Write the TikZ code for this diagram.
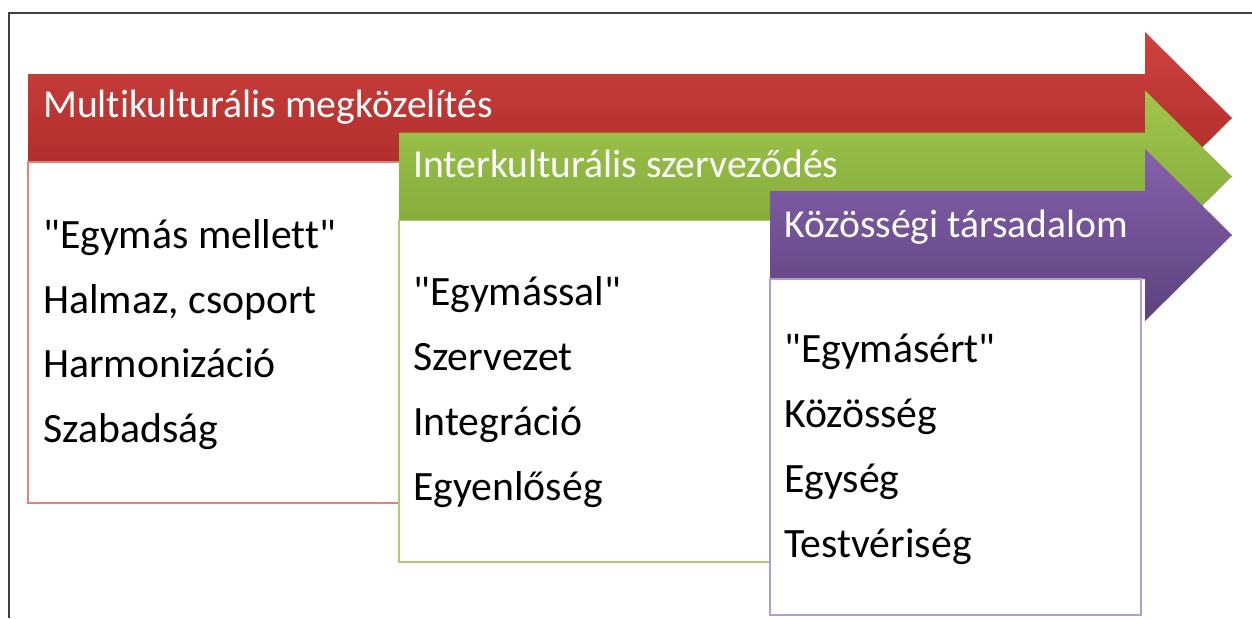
\documentclass[tikz,border=0pt]{standalone}
\usepackage{fontspec}
\newfontfamily\calfont{Carlito}[Ligatures=NoCommon]
\definecolor{redtop}{RGB}{206,66,62}
\definecolor{redbot}{RGB}{166,40,38}
\definecolor{greentop}{RGB}{160,198,76}
\definecolor{greenbot}{RGB}{126,166,56}
\definecolor{purptop}{RGB}{133,97,172}
\definecolor{purpbot}{RGB}{94,66,126}
\definecolor{boxred}{RGB}{226,128,128}
\definecolor{boxgreen}{RGB}{172,206,112}
\definecolor{boxpurp}{RGB}{176,158,206}
\definecolor{framegray}{RGB}{64,64,64}
\tikzset{
  hdr/.style={anchor=base west, text=white, inner sep=0pt, font=\calfont\fontsize{29.7}{34}\selectfont},
  itm/.style={anchor=base west, text=black, inner sep=0pt, font=\calfont\fontsize{31.3}{36}\selectfont},
  listbox/.style={fill=white, line width=1.3pt},
}
\begin{document}
\begin{tikzpicture}[x=0.75pt,y=-0.75pt]
\useasboundingbox (0,0) rectangle (1252,618);
% frame
\draw[framegray, line width=1.4pt] (1252,13) -- (9,13) -- (9,618);
% red arrow
\shade[top color=redtop, bottom color=redbot]
  (28,74) -- (1145,74) -- (1145,32) -- (1232,118) -- (1145,204) -- (1145,162) -- (28,162) -- cycle;
\node[hdr] (h1) at (43,117) {Multikulturális megközelítés};
\draw[listbox, draw=boxred] (28,162) rectangle (700,503);
\node[itm] (r1) at (43,248) {"Egymás mellett"};
\node[itm] (r2) at (43,313) {Halmaz, csoport};
\node[itm] (r3) at (43,377.5) {Harmonizáció};
\node[itm] (r4) at (43,442) {Szabadság};
% green arrow
\shade[top color=greentop, bottom color=greenbot]
  (399,132.5) -- (1145,132.5) -- (1145,90.5) -- (1232,176.5) -- (1145,262.5) -- (1145,220.5) -- (399,220.5) -- cycle;
\node[hdr] (h2) at (413,177) {Interkulturális szerveződés};
\draw[listbox, draw=boxgreen] (399,220.5) rectangle (1000,562);
\node[itm] (g1) at (413,305) {"Egymással"};
\node[itm] (g2) at (413,370) {Szervezet};
\node[itm] (g3) at (413,435) {Integráció};
\node[itm] (g4) at (413,500) {Egyenlőség};
% purple arrow
\shade[top color=purptop, bottom color=purpbot]
  (770,191) -- (1145,191) -- (1145,149) -- (1232,235) -- (1145,321) -- (1145,279) -- (770,279) -- cycle;
\node[hdr] (h3) at (784,237) {Közösségi társadalom};
\draw[listbox, draw=boxpurp] (770,279) rectangle (1141,615);
\node[itm] (p1) at (784,362) {"Egymásért"};
\node[itm] (p2) at (784,427) {Közösség};
\node[itm] (p3) at (784,492) {Egység};
\node[itm] (p4) at (784,557) {Testvériség};
\end{tikzpicture}
\end{document}
